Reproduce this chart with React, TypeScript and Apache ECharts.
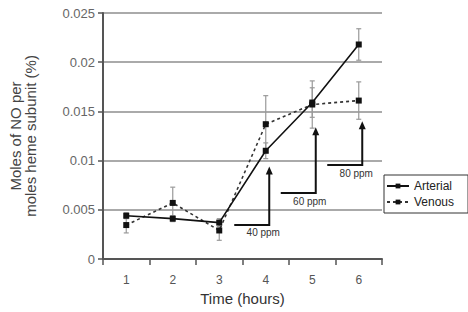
import React, { useEffect, useRef } from "react";
import * as echarts from "echarts";

const categories = ["1", "2", "3", "4", "5", "6"];
const arterial = [0.0044, 0.0041, 0.0037, 0.011, 0.0159, 0.0218];
const venous = [0.00345, 0.0057, 0.0029, 0.0137, 0.0157, 0.0161];
const arterialErr = [0.0003, 0.0003, 0.0004, 0.0008, 0.0015, 0.0016];
const venousErr = [0.0008, 0.0016, 0.001, 0.0029, 0.0024, 0.0019];
const arrowIdx = [3, 4, 5];
const arrowTip = [0.0094, 0.0134, 0.014];
const arrowBase = [0.00346, 0.0067, 0.00955];
const arrowLabels = ["40 ppm", "60 ppm", "80 ppm"];

const FONT = "Liberation Sans, Arial, Helvetica, sans-serif";

export default function App() {
  const ref = useRef<HTMLDivElement>(null);
  useEffect(() => {
    if (!ref.current) return;
    const chart = echarts.init(ref.current, undefined, { renderer: "svg" });

    const errData: any[] = [];
    arterial.forEach((v, i) => errData.push([i, v - arterialErr[i], v + arterialErr[i]]));
    venous.forEach((v, i) => errData.push([i, v - venousErr[i], v + venousErr[i]]));

    const arrowData = arrowIdx.map((ix, k) => [ix, arrowTip[k], arrowBase[k], k]);

    chart.setOption({
      animation: false,
      textStyle: { fontFamily: FONT },
      grid: { left: 90, right: 86, top: 13, bottom: 53, containLabel: false },
      legend: {
        orient: "vertical",
        left: 384,
        top: 175,
        itemWidth: 22,
        itemHeight: 6,
        itemGap: 4,
        padding: [5, 14, 5, 2],
        borderColor: "#333",
        borderWidth: 1,
        textStyle: { fontSize: 12, color: "#222", fontFamily: FONT },
        data: ["Arterial", "Venous"],
      },
      xAxis: {
        type: "category",
        data: categories,
        boundaryGap: true,
        name: "Time (hours)",
        nameLocation: "middle",
        nameGap: 31,
        nameTextStyle: { fontSize: 15, color: "#333", fontFamily: FONT },
        axisLine: { lineStyle: { color: "#555", width: 2 } },
        axisTick: { show: true, length: 6, interval: 0, lineStyle: { color: "#555", width: 1.5 } },
        axisLabel: { margin: 15, fontSize: 12, color: "#555", fontFamily: FONT },
        splitLine: { show: false },
      },
      yAxis: {
        type: "value",
        min: 0,
        max: 0.025,
        interval: 0.005,
        name: "Moles of NO per\nmoles heme subunit (%)",
        nameLocation: "middle",
        nameGap: 65,
        nameRotate: 90,
        nameTextStyle: { fontSize: 15, color: "#444", lineHeight: 15, fontFamily: FONT },
        axisLine: { show: true, lineStyle: { color: "#555", width: 2 } },
        axisTick: { show: true, length: 5, lineStyle: { color: "#555", width: 1.5 } },
        axisLabel: { margin: 8, fontSize: 13, color: "#666", fontFamily: FONT },
        splitLine: { show: true, lineStyle: { color: "#aaa", width: 2 } },
      },
      series: [
        {
          name: "errors",
          type: "custom",
          data: errData,
          z: 1,
          silent: true,
          renderItem: (params: any, api: any) => {
            const i = api.value(0);
            const lo = api.coord([i, api.value(1)]);
            const hi = api.coord([i, api.value(2)]);
            const st = { stroke: "#999", lineWidth: 1.2 };
            return {
              type: "group",
              children: [
                { type: "line", shape: { x1: lo[0], y1: lo[1], x2: hi[0], y2: hi[1] }, style: st },
                { type: "line", shape: { x1: lo[0] - 2.5, y1: lo[1], x2: lo[0] + 2.5, y2: lo[1] }, style: st },
                { type: "line", shape: { x1: hi[0] - 2.5, y1: hi[1], x2: hi[0] + 2.5, y2: hi[1] }, style: st },
              ],
            };
          },
        },
        {
          name: "arrows",
          type: "custom",
          data: arrowData,
          z: 3,
          silent: true,
          renderItem: (params: any, api: any) => {
            const i = api.value(0);
            const k = api.value(3);
            const tip = api.coord([i, api.value(1)]);
            const base = api.coord([i, api.value(2)]);
            const x = tip[0] + 3.5;
            const st = { stroke: "#111", lineWidth: 2, fill: "none" };
            return {
              type: "group",
              children: [
                {
                  type: "polyline",
                  shape: { points: [[x - 35, base[1]], [x, base[1]], [x, tip[1] + 6]] },
                  style: st,
                },
                {
                  type: "polygon",
                  shape: { points: [[x, tip[1]], [x - 3.5, tip[1] + 8], [x + 3.5, tip[1] + 8]] },
                  style: { fill: "#111" },
                },
                {
                  type: "text",
                  x: x - 6,
                  y: base[1] + 3,
                  style: {
                    text: arrowLabels[k],
                    fontSize: 10,
                    fill: "#333",
                    fontFamily: FONT,
                    align: "center",
                    verticalAlign: "top",
                  },
                },
              ],
            };
          },
        },
        {
          name: "Venous",
          type: "line",
          data: venous,
          z: 4,
          symbol: "rect",
          symbolSize: 6,
          itemStyle: { color: "#111" },
          lineStyle: { color: "#333", width: 1.6, type: [3, 3] },
        },
        {
          name: "Arterial",
          type: "line",
          data: arterial,
          z: 5,
          symbol: "rect",
          symbolSize: 6,
          itemStyle: { color: "#111" },
          lineStyle: { color: "#111", width: 1.6 },
        },
      ],
    });
    return () => chart.dispose();
  }, []);
  return <div ref={ref} style={{ width: 468, height: 312, position: "absolute", left: 0, top: 0 }} />;
}
